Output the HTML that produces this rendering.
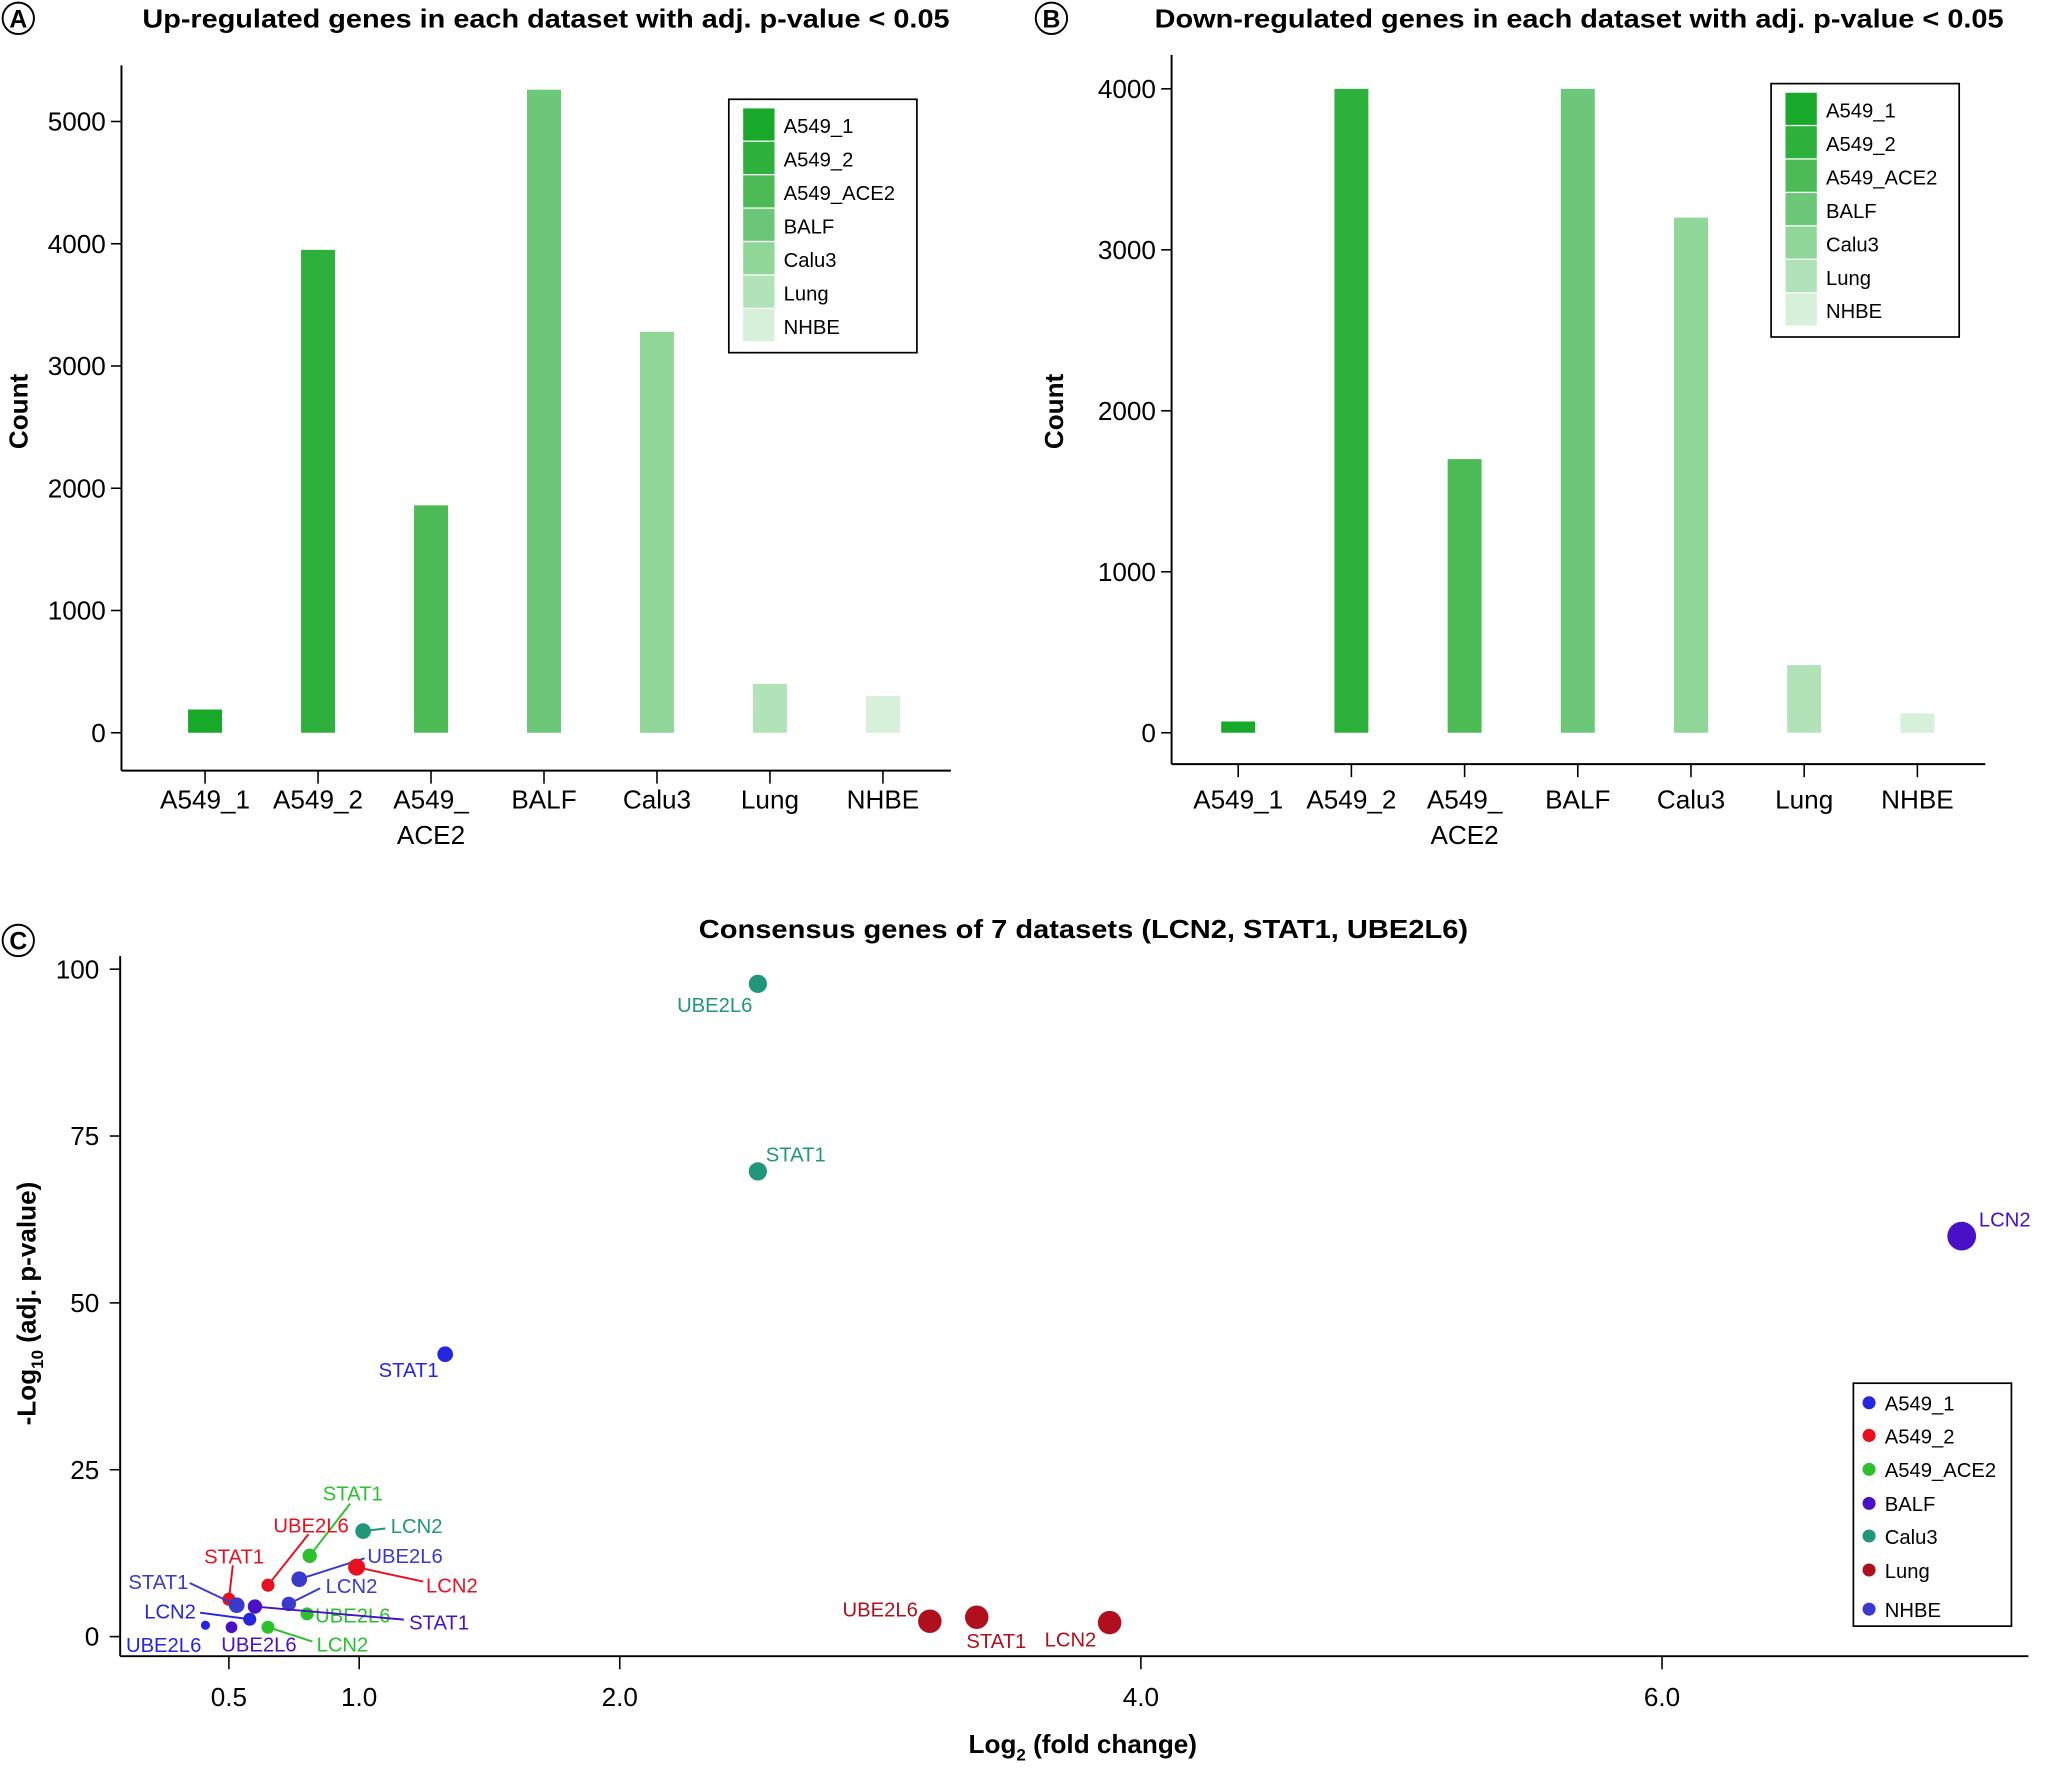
<!DOCTYPE html>
<html><head><meta charset="utf-8"><style>
html,body{margin:0;padding:0;background:#fff;}
svg{display:block;font-family:"Liberation Sans",Arial,sans-serif;}
</style></head><body>
<svg id="fig" width="2048" height="1768" viewBox="0 0 1568 1353.6" xmlns="http://www.w3.org/2000/svg"></svg>
<script>
const categories = ["A549_1","A549_2","A549_ACE2","BALF","Calu3","Lung","NHBE"];
const upCounts = [190, 3950, 1860, 5260, 3280, 400, 300];
const downCounts = [70, 4000, 1700, 4000, 3200, 420, 120];
const upTicks = [0,1000,2000,3000,4000,5000];
const downTicks = [0,1000,2000,3000,4000];
const greens = ["#18a82a","#2eb03c","#4cbb56","#6cc878","#8fd698","#b2e2b8","#d6f0d9"];

const volDatasets = ["A549_1","A549_2","A549_ACE2","BALF","Calu3","Lung","NHBE"];
const volColors = ["#2626e0","#e8101e","#2cc02c","#4a10c8","#20967a","#b0101e","#3a3acc"];
const ptDataset = ["Calu3","Calu3","BALF","A549_1","Lung","Lung","Lung","Calu3","A549_ACE2","A549_2","NHBE","A549_2","A549_2","NHBE","A549_ACE2","BALF","NHBE","A549_1","A549_1","BALF","A549_ACE2"];
const ptGene = ["UBE2L6","STAT1","LCN2","STAT1","UBE2L6","STAT1","LCN2","LCN2","STAT1","UBE2L6","UBE2L6","LCN2","STAT1","LCN2","UBE2L6","STAT1","STAT1","LCN2","UBE2L6","UBE2L6","LCN2"];
const ptLog2FC = [2.53,2.53,7.15,1.33,3.19,3.37,3.88,1.015,0.81,0.65,0.77,0.99,0.50,0.73,0.80,0.60,0.53,0.58,0.41,0.51,0.65];
const ptNegLogP = [97.8,69.7,60.0,42.3,2.3,2.9,2.1,15.8,12.1,7.7,8.6,10.4,5.6,4.9,3.4,4.5,4.7,2.6,1.7,1.4,1.4];
const xTicksC = [0.5,1.0,2.0,4.0,6.0];
const xTickLabelsC = ["0.5","1.0","2.0","4.0","6.0"];
const yTicksC = [0,25,50,75,100];
// styling: radius, label offsets (dx,dy), leader line end offsets
const ptRadius = [7,7,11,6,9,9,9,6,5.5,5,6,6.5,5,5.5,5,5.5,6,5,3.5,4.5,5];
const lblDX = [-33,29,33,-28,-38,15,-30,41,33,33,81,73,4,48,35,141,-60,-61,-32,21,57];
const lblDY = [16,-13,-13,12,-9,18,13,-4,-48,-46,-18,14,-33,-14,1,12,-18,-6,15,13,13];
const lnDX = [null,null,null,null,null,null,null,17,31,31,50,51,3,24,5,114,-36,-38,null,null,34];
const lnDY = [null,null,null,null,null,null,null,-2,-40,-39,-16,11,-26,-12,1,10,-17,-5,null,null,11];

const NS="http://www.w3.org/2000/svg";
const svg=document.getElementById('fig');
function mk(tag,attrs,parent){const e=document.createElementNS(NS,tag);for(const k in attrs)e.setAttribute(k,attrs[k]);(parent||svg).appendChild(e);return e;}
function txt(s,attrs,parent){const e=mk('text',attrs,parent);e.textContent=s;return e;}

[["A",14,14],["B",805,14],["C",14,720]].forEach(p=>{
  const g=mk('g',{});
  
  
  mk('circle',{cx:p[1],cy:p[2],r:12,fill:'#fff',stroke:'#000','stroke-width':1.5},g);
  txt(p[0],{x:p[1],y:p[2]+7,'text-anchor':'middle','font-size':19,'font-weight':'bold'},g);
});

function barPanel(id,title,titleX,titleW,vals,ticks,cfg){
  const g=mk('g',{});
  
  
  const yS=v=>cfg.y0-(v/1000)*cfg.per1000;
  const t=txt(title,{x:titleX,y:21,'font-size':20,'font-weight':'bold',textLength:titleW,lengthAdjust:'spacingAndGlyphs'},g);
  
  
  mk('line',{x1:cfg.ax,y1:cfg.ytop,x2:cfg.ax,y2:cfg.axY,stroke:'#000','stroke-width':1.5},g);
  mk('line',{x1:cfg.ax,y1:cfg.axY,x2:cfg.axEnd,y2:cfg.axY,stroke:'#000','stroke-width':1.5},g);
  ticks.forEach(v=>{
    const y=yS(v);
    mk('line',{x1:cfg.ax-8,y1:y,x2:cfg.ax,y2:y,stroke:'#000','stroke-width':1.2},g);
    const l=txt(String(v),{x:cfg.ax-12,y:y+7,'text-anchor':'end','font-size':20},g);
    
    
  });
  const yl=txt('Count',{x:0,y:0,transform:`translate(${cfg.ylx},315) rotate(-90)`,'text-anchor':'middle','font-size':20,'font-weight':'bold'},g);
  
  
  const n=categories.length;
  const step=(cfg.cLast-cfg.cFirst)/(n-1);
  vals.forEach((v,i)=>{
    const cx=cfg.cFirst+i*step;
    const r=mk('rect',{x:cx-cfg.bw/2,y:yS(v),width:cfg.bw,height:cfg.y0-yS(v),fill:greens[i]},g);
    
    
    mk('line',{x1:cx,y1:cfg.axY,x2:cx,y2:cfg.axY+10,stroke:'#000','stroke-width':1.2},g);
    const lab=categories[i]==='A549_ACE2'?['A549_','ACE2']:[categories[i]];
    lab.forEach((s,k)=>{
      const l=txt(s,{x:cx,y:cfg.axY+cfg.lblOff+k*27,'text-anchor':'middle','font-size':20},g);
      
      
    });
  });
  const lg=mk('g',{},g);
  
  
  mk('rect',{x:cfg.lx,y:cfg.ly,width:144,height:194,fill:'#fff',stroke:'#000','stroke-width':1.3},lg);
  categories.forEach((c,i)=>{
    const e=mk('g',{},lg);
    
    
    mk('rect',{x:cfg.lx+11,y:cfg.ly+7+i*25.6,width:24,height:24.6,fill:greens[i]},e);
    txt(c,{x:cfg.lx+42,y:cfg.ly+26+i*25.6,'font-size':15.5},e);
  });
}
barPanel('upregulated','Up-regulated genes in each dataset with adj. p-value < 0.05',109,618,upCounts,upTicks,
  {ax:93,ytop:50,axY:590,axEnd:728,y0:561,per1000:93.6,ylx:21,cFirst:157,cLast:676,bw:26,lx:558,ly:76,lblOff:29});
barPanel('downregulated','Down-regulated genes in each dataset with adj. p-value < 0.05',884,650,downCounts,downTicks,
  {ax:897,ytop:42,axY:585,axEnd:1520,y0:561,per1000:123.25,ylx:814,cFirst:948,cLast:1468,bw:26,lx:1356,ly:64,lblOff:34});

const gc=mk('g',{});


const xS=v=>75.5+v*199.5;
const yS=v=>1253-v*5.11;
const tc=txt('Consensus genes of 7 datasets (LCN2, STAT1, UBE2L6)',{x:535,y:718,'font-size':20,'font-weight':'bold',textLength:589,lengthAdjust:'spacingAndGlyphs'},gc);


mk('line',{x1:92,y1:732,x2:92,y2:1268,stroke:'#000','stroke-width':1.5},gc);
mk('line',{x1:92,y1:1268,x2:1553,y2:1268,stroke:'#000','stroke-width':1.5},gc);
yTicksC.forEach(v=>{
  const y=yS(v);
  mk('line',{x1:84,y1:y,x2:92,y2:y,stroke:'#000','stroke-width':1.2},gc);
  const l=txt(String(v),{x:76,y:y+7,'text-anchor':'end','font-size':20},gc);
  
  
});
xTicksC.forEach((v,i)=>{
  const x=xS(v);
  mk('line',{x1:x,y1:1268,x2:x,y2:1278,stroke:'#000','stroke-width':1.2},gc);
  const l=txt(xTickLabelsC[i],{x:x,y:1306,'text-anchor':'middle','font-size':20},gc);
  
  
});
const xl=txt('',{x:829,y:1342,'text-anchor':'middle','font-size':20,'font-weight':'bold'},gc);
xl.innerHTML='Log<tspan font-size="13" dy="6">2</tspan><tspan dy="-6"> (fold change)</tspan>';


const ylc=txt('',{x:0,y:0,transform:'translate(27,998) rotate(-90)','text-anchor':'middle','font-size':20,'font-weight':'bold'},gc);
ylc.innerHTML='-Log<tspan font-size="13" dy="6">10</tspan><tspan dy="-6"> (adj. p-value)</tspan>';



ptLog2FC.forEach((fx,i)=>{
  const col=volColors[volDatasets.indexOf(ptDataset[i])];
  const px=xS(fx), py=yS(ptNegLogP[i]);
  const g=mk('g',{},gc);
  
  
  if(lnDX[i]!==null) mk('line',{x1:px,y1:py,x2:px+lnDX[i],y2:py+lnDY[i],stroke:col,'stroke-width':1.5},g);
  mk('circle',{cx:px,cy:py,r:ptRadius[i],fill:col},g);
  txt(ptGene[i],{x:px+lblDX[i],y:py+lblDY[i]+5.5,'text-anchor':'middle','font-size':15.5,fill:col},g);
});
const lc=mk('g',{},gc);


mk('rect',{x:1419,y:1059,width:121,height:186,fill:'#fff',stroke:'#000','stroke-width':1.3},lc);
const lcY=[1074,1099,1125,1151,1176,1202,1232];
volDatasets.forEach((d,i)=>{
  const e=mk('g',{},lc);
  
  
  mk('circle',{cx:1431,cy:lcY[i],r:5,fill:volColors[i]},e);
  txt(d,{x:1443,y:lcY[i]+6,'font-size':15.5},e);
});
</script>
</body></html>
